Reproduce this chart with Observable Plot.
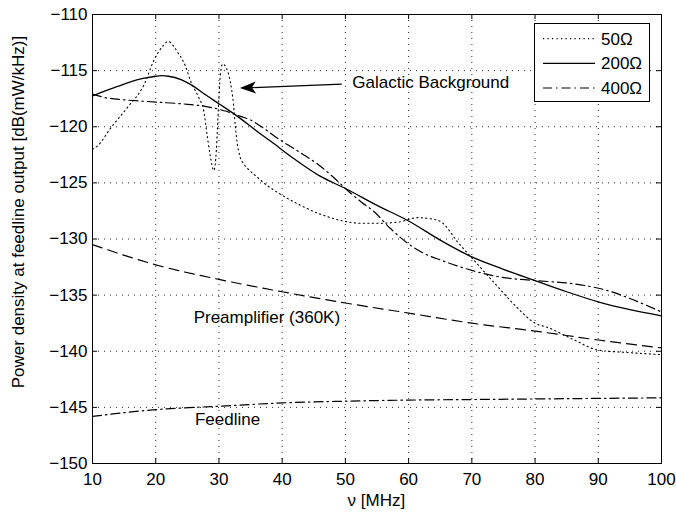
<!DOCTYPE html>
<html><head><meta charset="utf-8">
<script src="https://cdn.jsdelivr.net/npm/d3@7"></script>
<script src="https://cdn.jsdelivr.net/npm/@observablehq/plot@0.6"></script>
<style>
body{margin:0;background:#fff;}
#chart{width:676px;height:517px;}
svg{font-family:"Liberation Sans",Arial,Helvetica,sans-serif;}
</style></head><body><div id="chart"></div>
<script>
const xTicks = [10,20,30,40,50,60,70,80,90,100];
const yTicks = [-150,-145,-140,-135,-130,-125,-120,-115,-110];

// 50 ohm (dotted)
const nu50 = [10,10.8,12.9,15.5,18.2,19.7,21,22,22.8,23.5,24.2,24.7,25.5,26.8,27.6,28.1,28.6,29.2,29.6,29.9,30.2,30.6,31.2,31.8,32.3,32.6,32.9,33.3,33.9,34.5,36.3,37.1,39.7,42.9,46.1,49.7,52.4,55,58.3,61.4,63.5,65.2,67.8,70.5,73.7,76.8,80,82.1,86.2,90,94.3,100];
const p50 = [-122.0,-121.7,-120.1,-118.3,-116.2,-114.1,-112.9,-112.4,-112.8,-113.4,-114.0,-114.6,-115.9,-117.4,-118.6,-120.6,-122.5,-123.9,-122.0,-118.5,-115.5,-114.4,-114.8,-116.0,-118.0,-120.0,-121.5,-122.6,-123.3,-123.7,-124.6,-125.0,-126.0,-127.0,-127.8,-128.4,-128.6,-128.6,-128.5,-128.1,-128.2,-128.5,-130.3,-132.0,-134.0,-135.9,-137.5,-137.9,-139.0,-139.9,-140.1,-140.3];
// 200 ohm (solid)
const nu200 = [10,12,14,16,18,20,21,22,24,26,28,30,33,36,38.2,42,46,50,55,60,65,70,75,80,85,90,95,100];
const p200 = [-117.25,-116.8,-116.4,-116.0,-115.7,-115.5,-115.45,-115.5,-115.8,-116.4,-117.2,-117.95,-119.1,-120.4,-121.3,-122.9,-124.4,-125.5,-127.0,-128.4,-130.1,-131.6,-132.7,-133.7,-134.7,-135.6,-136.3,-136.85];
// 400 ohm (dash-dot)
const nu400 = [10,12,15,20,25,28,31,33,35,37,39.2,42,46,48.5,50.4,52.5,54.6,57,59.9,62.5,65.2,70,74.6,80,86.2,91.5,95,100];
const p400 = [-117.1,-117.4,-117.6,-117.8,-118.0,-118.2,-118.6,-119.0,-119.4,-120.1,-121.0,-122.0,-123.5,-124.7,-125.7,-126.7,-127.6,-129.0,-130.4,-131.3,-131.9,-132.8,-133.4,-133.7,-134.0,-134.6,-135.3,-136.5];
// Preamplifier (dashed)
const nuPre = [10,20,30,40,50,60,70,80,90,100];
const pPre = [-130.5,-132.3,-133.6,-134.7,-135.7,-136.6,-137.5,-138.2,-139.0,-139.7];
// Feedline (dash-dot)
const nuFeed = [10,20,30,40,50,60,70,80,90,100];
const pFeed = [-145.8,-145.2,-144.9,-144.6,-144.45,-144.35,-144.3,-144.25,-144.2,-144.15];

const legendLabels = ["50Ω","200Ω","400Ω"];
const annoText = ["Galactic Background","Preamplifier (360K)","Feedline"];
const annoX = [51.1,26.0,26.2];
const annoY = [-116.1,-137.0,-146.1];
const arrowFrom = [49.5,-116.24];
const arrowTo = [33.4,-116.6];
const xLabel = "ν [MHz]";
const yLabel = "Power density at feedline output [dB(mW/kHz)]";

const rows = (xs, ys) => xs.map((x, i) => ({x, y: ys[i]}));
const FONT = 17;
const dotted = "1.2,3.3", solid = null, dashdot = "9,4,1.5,4", dashed = "10,6";
const series = [
  {data: rows(nu50, p50), dash: dotted, w: 1.1},
  {data: rows(nu200, p200), dash: solid, w: 1.3},
  {data: rows(nu400, p400), dash: dashdot, w: 1.2},
  {data: rows(nuPre, pPre), dash: dashed, w: 1.2},
  {data: rows(nuFeed, pFeed), dash: dashdot, w: 1.2}
];
const annos = annoText.map((t, i) => ({text: t, x: annoX[i], y: annoY[i]}));
const tx = 5 / 6.326, ty = 5 / 11.225;

const plot = Plot.plot({
  width: 676, height: 517,
  marginLeft: 92, marginRight: 15, marginTop: 14, marginBottom: 54,
  style: {fontFamily: '"Liberation Sans",Arial,Helvetica,sans-serif', fontSize: FONT + "px", color: "black", background: "white", overflow: "visible"},
  x: {domain: [10, 100]},
  y: {domain: [-150, -110]},
  marks: [
    Plot.gridX(xTicks, {stroke: "#000", strokeOpacity: 0.85, strokeDasharray: "1,5"}),
    Plot.gridY(yTicks, {stroke: "#000", strokeOpacity: 0.85, strokeDasharray: "1,5"}),
    Plot.ruleX(xTicks, {y1: -150, y2: -150 + ty, stroke: "#000"}),
    Plot.ruleX(xTicks, {y1: -110, y2: -110 - ty, stroke: "#000"}),
    Plot.ruleY(yTicks, {x1: 10, x2: 10 + tx, stroke: "#000"}),
    Plot.ruleY(yTicks, {x1: 100, x2: 100 - tx, stroke: "#000"}),
    ...series.map(s => Plot.line(s.data, {x: "x", y: "y", stroke: "#000", strokeWidth: s.w, strokeDasharray: s.dash, curve: "monotone-x"})),
    Plot.text(annos, {x: "x", y: "y", text: "text", textAnchor: "start", fontSize: FONT, fill: "#000"}),
    Plot.frame({stroke: "#000"}),
    Plot.axisX(xTicks, {tickSize: 0, tickPadding: 9, label: null, fontSize: FONT}),
    Plot.axisY(yTicks, {tickSize: 0, tickPadding: 5, label: null, fontSize: FONT, tickFormat: d3.format("d")})
  ]
});
document.getElementById("chart").appendChild(plot);

const svg = d3.select(plot);
const X = plot.scale("x").apply, Y = plot.scale("y").apply;

// arrow
const x1 = X(arrowFrom[0]), y1 = Y(arrowFrom[1]), x2 = X(arrowTo[0]), y2 = Y(arrowTo[1]);
const ang = Math.atan2(y2 - y1, x2 - x1);
const L = 16, W = 6, N = 12;
const ux = Math.cos(ang), uy = Math.sin(ang), px = -uy, py = ux;
svg.append("line").attr("x1", x1).attr("y1", y1).attr("x2", x2 - ux * N).attr("y2", y2 - uy * N).attr("stroke", "#000").attr("stroke-width", 1.2);
svg.append("path").attr("d", `M${x2},${y2}L${x2 - ux*L + px*W},${y2 - uy*L + py*W}L${x2 - ux*N},${y2 - uy*N}L${x2 - ux*L - px*W},${y2 - uy*L - py*W}Z`).attr("fill", "#000");

// axis labels
svg.append("text").attr("x", 376.4).attr("y", 506).attr("text-anchor", "middle").attr("font-size", FONT).text(xLabel);
svg.append("text").attr("transform", "translate(24,212) rotate(-90)").attr("text-anchor", "middle").attr("font-size", FONT).text(yLabel);

// legend
const lg = svg.append("g").attr("text-anchor", "start");
lg.append("rect").attr("x", 534.5).attr("y", 23.5).attr("width", 115).attr("height", 78).attr("fill", "#fff").attr("stroke", "#000");
const legDash = [dotted, solid, dashdot];
const legW = [1.1, 1.3, 1.2];
legendLabels.forEach((t, i) => {
  const cy = 38.6 + i * 24.7;
  lg.append("line").attr("x1", 543).attr("x2", 595).attr("y1", cy).attr("y2", cy).attr("stroke", "#000").attr("stroke-width", legW[i]).attr("stroke-dasharray", legDash[i]);
  lg.append("text").attr("x", 601).attr("y", cy).attr("dy", "0.35em").attr("text-anchor", "start").attr("font-size", FONT).text(t);
});
</script></body></html>
